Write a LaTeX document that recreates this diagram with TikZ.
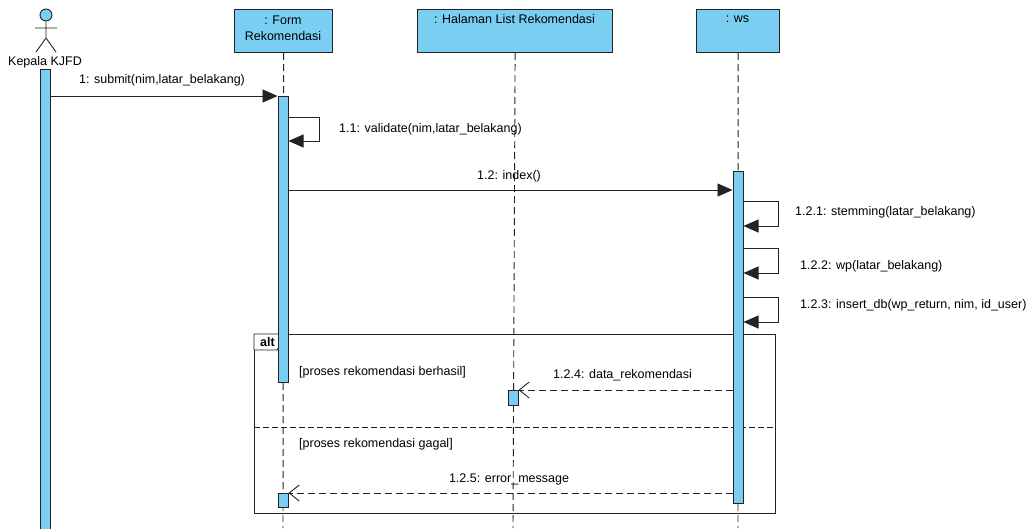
\documentclass[tikz,border=0pt]{standalone}
\usepackage{fontspec}
\setmainfont{Liberation Sans}
\usetikzlibrary{arrows.meta}
\definecolor{barblue}{RGB}{122,206,242}
\definecolor{ink}{RGB}{35,35,35}
\begin{document}
\begin{tikzpicture}[x=1pt,y=-1pt,
  font=\fontsize{12.5}{14}\selectfont,
  objbox/.style={draw=ink, line width=1.2pt, fill=barblue, inner sep=0pt, anchor=north west},
  actbar/.style={draw=ink, line width=1pt, fill=barblue, inner sep=0pt, minimum width=10pt, anchor=north},
  lifeline/.style={draw=ink, line width=0.9pt, dash pattern=on 7pt off 4pt},
  callmsg/.style={draw=ink, line width=0.9pt, -{Triangle[length=15pt,width=13pt]}},
  retmsg/.style={draw=ink, line width=0.9pt, dash pattern=on 7pt off 4pt, -{Straight Barb[length=10pt,width=16pt]}},
  txt/.style={inner sep=0pt, text=black},
  frameline/.style={draw=ink, line width=0.9pt}
]
\useasboundingbox (0,0) rectangle (1035,528);

% object boxes
\node[objbox, minimum width=98pt, minimum height=43pt] (form) at (234,9) {};
\node[objbox, minimum width=195pt, minimum height=43pt] (hal) at (417,9) {};
\node[objbox, minimum width=83pt, minimum height=43pt] (ws) at (696,9) {};
\node[txt, align=center] (formT) at (283,28) {: Form\\[2pt]Rekomendasi};
\node[txt] (halT) at (514.5,19) {: Halaman List Rekomendasi};
\node[txt] (wsT) at (737.5,19) {: ws};

% lifeline end points
\coordinate (formEnd) at (283,528);
\coordinate (halEnd) at (513,528);
\coordinate (wsEnd) at (738,528);

% alt frame
\node[draw=ink, line width=0.9pt, inner sep=0pt, minimum width=521pt, minimum height=179pt, anchor=north west] (altF) at (254,334) {};
\coordinate (divL) at (254,427);
\coordinate (divR) at (775,427);
\draw[frameline, dash pattern=on 6pt off 3pt] (divL) -- (divR);
\draw[frameline, fill=white] (altF.north west) -- ++(27,0) -- ++(0,10) -- ++(-4,6) -- (254,350) -- cycle;
\node[txt, font=\fontsize{12.5}{14}\selectfont\bfseries] (altT) at (267.5,342) {alt};

% lifelines
\draw[lifeline] (form.south) -- (formEnd);
\draw[lifeline] (hal.south) -- (halEnd);
\draw[lifeline] (ws.south) -- (wsEnd);

% actor
\node[circle, draw=ink, line width=0.9pt, fill=barblue, minimum size=12pt, inner sep=0pt] (head) at (46,15) {};
\coordinate (hip) at (46,38);
\coordinate (armL) at (35,28);
\coordinate (armR) at (57,28);
\coordinate (legL) at (36,52);
\coordinate (legR) at (56,52);
\draw[ink, line width=0.9pt] (head.south) -- (hip) (armL) -- (armR) (legL) -- (hip) -- (legR);
\node[txt] (actorT) at (45,62) {Kepala KJFD};

% activation bars
\node[actbar, minimum height=464pt] (kbar) at (45.5,69) {};
\node[actbar, minimum height=286pt] (fbar) at (283,96) {};
\node[actbar, minimum height=332pt] (wbar) at (738,171) {};
\node[actbar, minimum height=15pt] (hbar) at (513,390) {};
\node[actbar, minimum height=14pt] (fbar2) at (283,493) {};

% y levels
\coordinate (y11a) at (0,117);
\coordinate (y11b) at (0,141);
\coordinate (y12) at (0,190);
\coordinate (y121a) at (0,201);
\coordinate (y121b) at (0,226);
\coordinate (y122a) at (0,248);
\coordinate (y122b) at (0,273);
\coordinate (y123a) at (0,297);
\coordinate (y123b) at (0,322);

% messages
\draw[callmsg] (kbar.east |- fbar.north) -- (fbar.north west);
\node[txt] (m1) at (162,80) {1: submit(nim,latar\_belakang)};

\draw[callmsg] (fbar.east |- y11a) -- ++(31,0) -- ++(0,24) -- (fbar.east |- y11b);
\node[txt, anchor=west] (m11) at (339,129) {1.1: validate(nim,latar\_belakang)};

\draw[callmsg] (fbar.east |- y12) -- (wbar.west |- y12);
\node[txt] (m12) at (509,176) {1.2: index()};

\draw[callmsg] (wbar.east |- y121a) -- ++(35,0) -- ++(0,25) -- (wbar.east |- y121b);
\node[txt, anchor=west] (m121) at (795,212) {1.2.1: stemming(latar\_belakang)};

\draw[callmsg] (wbar.east |- y122a) -- ++(35,0) -- ++(0,25) -- (wbar.east |- y122b);
\node[txt, anchor=west] (m122) at (800,266) {1.2.2: wp(latar\_belakang)};

\draw[callmsg] (wbar.east |- y123a) -- ++(35,0) -- ++(0,25) -- (wbar.east |- y123b);
\node[txt, anchor=west] (m123) at (800,305) {1.2.3: insert\_db(wp\_return, nim, id\_user)};

\node[txt, anchor=west] (g1) at (299,372) {[proses rekomendasi berhasil]};
\draw[retmsg] (wbar.west |- hbar.north) -- (hbar.north east);
\node[txt, anchor=west] (m124) at (553,375) {1.2.4: data\_rekomendasi};

\node[txt, anchor=west] (g2) at (299,444) {[proses rekomendasi gagal]};
\draw[retmsg] (wbar.west |- fbar2.north) -- (fbar2.north east);
\node[txt] (m125) at (509,479) {1.2.5: error\_message};
\end{tikzpicture}
\end{document}
